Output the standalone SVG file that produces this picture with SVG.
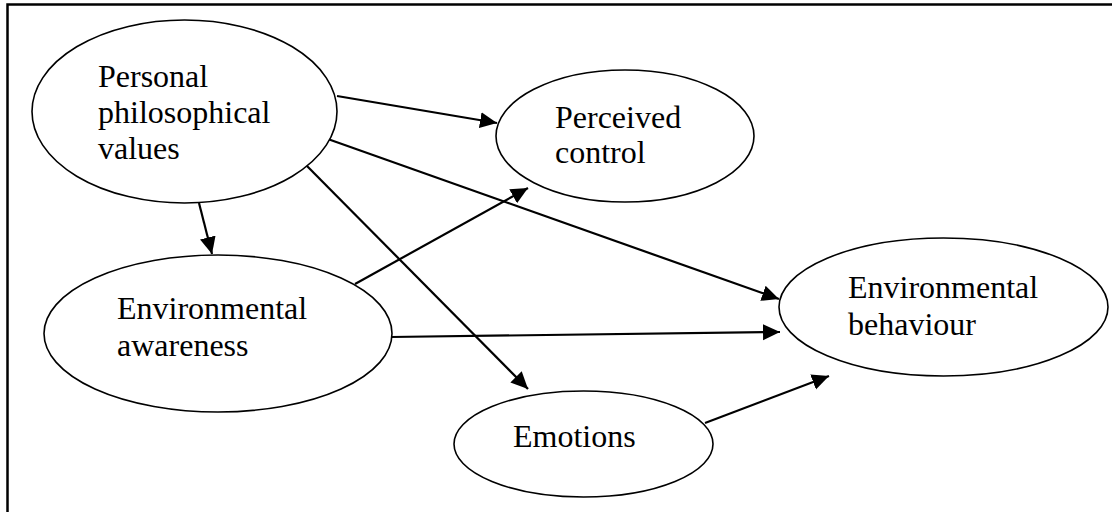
<svg xmlns="http://www.w3.org/2000/svg" width="1112" height="512" viewBox="0 0 1112 512">
<style>
.node ellipse{fill:#fff;stroke:#000;stroke-width:1.6}
.edge{stroke:#000;stroke-width:2.2;fill:none;marker-end:url(#ah)}
</style>
<defs>
<marker id="ah" markerUnits="userSpaceOnUse" markerWidth="19" markerHeight="17" refX="17" refY="8" orient="auto">
<path d="M0,0 L17,8 L0,16 z" fill="#000"/>
</marker>
</defs>
<rect width="1112" height="512" fill="#fff"/>
<path d="M7.5,512 V4.5 H1112" fill="none" stroke="#000" stroke-width="2.5"/>
<g id="connectors">
<line class="edge" x1="337" y1="96" x2="497" y2="123"/>
<line class="edge" x1="325" y1="138" x2="779" y2="299"/>
<line class="edge" x1="306" y1="165" x2="528" y2="389"/>
<line class="edge" x1="199" y1="203" x2="212" y2="254"/>
<line class="edge" x1="355" y1="284" x2="528" y2="188"/>
<line class="edge" x1="391" y1="337" x2="780" y2="332"/>
<line class="edge" x1="705" y1="423" x2="829" y2="376"/>
</g>
<g font-family="'Liberation Serif', 'Times New Roman', Times, 'DejaVu Serif', serif" font-size="32" fill="#000">
<g id="personal" class="node">
<ellipse cx="184.5" cy="111.5" rx="152.5" ry="91.5"/>
<text><tspan x="98" y="87">Personal</tspan><tspan x="98" y="123">philosophical</tspan><tspan x="98" y="159">values</tspan></text>
</g>
<g id="perceived" class="node">
<ellipse cx="625" cy="136" rx="129" ry="66"/>
<text><tspan x="555" y="128">Perceived</tspan><tspan x="555" y="163">control</tspan></text>
</g>
<g id="awareness" class="node">
<ellipse cx="218" cy="333.5" rx="174" ry="78.5"/>
<text><tspan x="117" y="319">Environmental</tspan><tspan x="117" y="356">awareness</tspan></text>
</g>
<g id="emotions" class="node">
<ellipse cx="583.5" cy="444" rx="129.5" ry="53"/>
<text x="513" y="447">Emotions</text>
</g>
<g id="behaviour" class="node">
<ellipse cx="943.5" cy="307" rx="164.5" ry="69"/>
<text><tspan x="848" y="298">Environmental</tspan><tspan x="848" y="335">behaviour</tspan></text>
</g>
</g>
</svg>
